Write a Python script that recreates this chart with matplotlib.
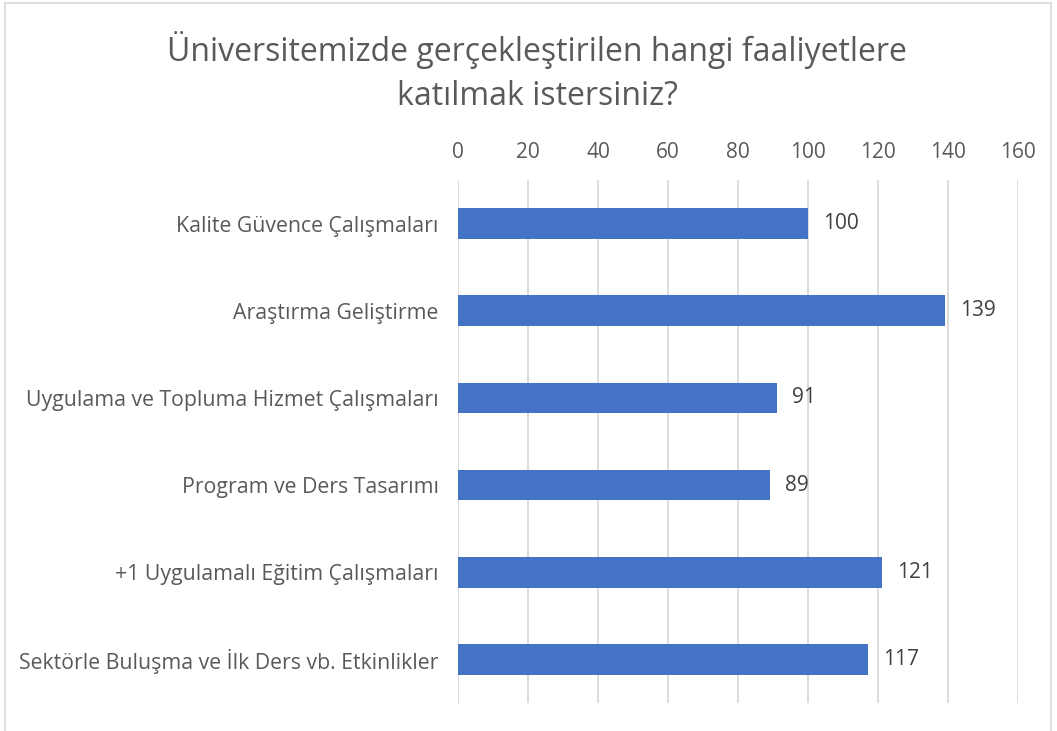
import matplotlib.pyplot as plt
from matplotlib.patches import Rectangle

categories = [
    "Kalite Güvence Çalışmaları",
    "Araştırma Geliştirme",
    "Uygulama ve Topluma Hizmet Çalışmaları",
    "Program ve Ders Tasarımı",
    "+1 Uygulamalı Eğitim Çalışmaları",
    "Sektörle Buluşma ve İlk Ders vb. Etkinlikler",
]
values = [100, 139, 91, 89, 121, 117]
xticks = [0, 20, 40, 60, 80, 100, 120, 140, 160]

plt.rcParams['font.family'] = ['Open Sans', 'DejaVu Sans']

fig = plt.figure(figsize=(10.57, 7.31), dpi=100)
W, H = 1057, 731

# chart border
fig.patches.append(Rectangle((5 / W, -0.01), (1051 - 5) / W, 1.01 - 3 / H,
                             transform=fig.transFigure, fill=False,
                             edgecolor='#D9D9D9', linewidth=1.2))

ax = fig.add_axes([458 / W, 1 - 703 / H, (1018 - 458) / W, (703 - 180) / H])
y = list(range(len(categories)))
bars = ax.barh(y, values, height=0.35, color='#4472C4', zorder=3)

ax.set_xlim(0, 160)
ax.set_ylim(len(categories) - 0.5, -0.5)
ax.set_xticks(xticks)
ax.xaxis.tick_top()
ax.set_yticks(y)
ax.set_yticklabels(categories)
ax.tick_params(axis='x', length=0, pad=12, labelsize=15, labelcolor='#595959')
ax.tick_params(axis='y', length=0, pad=14, labelsize=15.3, labelcolor='#595959')
ax.grid(axis='x', color='#D9D9D9', linewidth=1.3, zorder=0)
for s in ax.spines.values():
    s.set_visible(False)

for b, v in zip(bars, values):
    ax.annotate(str(v), xy=(b.get_width(), b.get_y() + b.get_height() / 2),
                xytext=(11, 0), textcoords='offset points', va='center', ha='left',
                fontsize=15, color='#404040')

fig.text(537 / W, 1 - 72 / H, "Üniversitemizde gerçekleştirilen hangi faaliyetlere\nkatılmak istersiniz?",
         ha='center', va='center', fontsize=23, color='#595959', linespacing=1.45)

fig.savefig('out.png', dpi=100)
